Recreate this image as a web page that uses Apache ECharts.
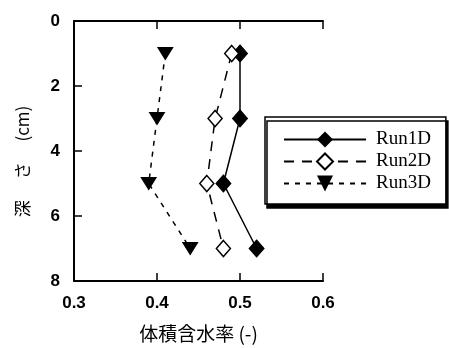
<!DOCTYPE html>
<html><head><meta charset="utf-8">
<script src="https://cdn.jsdelivr.net/npm/echarts@6/dist/echarts.min.js"></script>
<style>html,body{margin:0;padding:0;background:#fff}#c{width:449px;height:348px}</style>
</head><body><div id="c"></div>
<script>
const depths = [1, 3, 5, 7];
const run1D = [0.50, 0.50, 0.48, 0.52];
const run2D = [0.49, 0.47, 0.46, 0.48];
const run3D = [0.41, 0.40, 0.39, 0.44];
const xTicks = [0.3, 0.4, 0.5, 0.6];
const yTicks = [0, 2, 4, 6, 8];
const seriesNames = ['Run1D', 'Run2D', 'Run3D'];

const pair = (xs) => xs.map((v, i) => [v, depths[i]]);
const tri = 'path://M0,0 L10,0 L5,8 Z';
const chart = echarts.init(document.getElementById('c'));
const tickFont = {color:'#000', fontFamily:'Liberation Sans, Arial', fontWeight:'bold', fontSize:17};
const tick = {show:true, inside:true, length:8, lineStyle:{color:'#000', width:1.5}};
chart.setOption({
  animation:false,
  backgroundColor:'#fff',
  grid:{left:74, top:21, right:126, bottom:64},
  legend:{
    left:265, top:117, orient:'vertical', itemGap:3,
    itemWidth:82, itemHeight:20,
    padding:[13,15,11,18],
    borderColor:'#000', borderWidth:1.5, backgroundColor:'#fff',
    shadowColor:'#000', shadowBlur:0, shadowOffsetX:2, shadowOffsetY:4,
    textStyle:{fontFamily:'Liberation Serif, Times New Roman', fontSize:19, color:'#000', padding:[0,0,0,5]},
    data:seriesNames
  },
  xAxis:[{
    type:'value', position:'bottom', min:xTicks[0], max:xTicks[xTicks.length-1], interval:0.1,
    name:'体積含水率 (-)', nameLocation:'middle', nameGap:43,
    nameTextStyle:{fontFamily:'Noto Sans CJK JP', fontSize:19, color:'#000'},
    axisLine:{show:true, onZero:false, lineStyle:{color:'#000', width:2}},
    axisTick:tick,
    axisLabel:Object.assign({margin:14, formatter:v=>v.toFixed(1)}, tickFont),
    splitLine:{show:false}
  },{
    type:'value', position:'top', min:xTicks[0], max:xTicks[xTicks.length-1], interval:0.1,
    axisLine:{show:true, onZero:false, lineStyle:{color:'#000', width:2}},
    axisTick:tick,
    axisLabel:{show:false}, splitLine:{show:false}
  }],
  yAxis:[{
    type:'value', inverse:true, min:yTicks[0], max:yTicks[yTicks.length-1], interval:2,
    name:'深 　さ　 (cm)　 ', nameLocation:'middle', nameGap:43, nameRotate:90,
    nameTextStyle:{fontFamily:'Noto Sans CJK JP', fontSize:17, color:'#000'},
    axisLine:{show:true, onZero:false, lineStyle:{color:'#000', width:2}},
    axisTick:tick,
    axisLabel:Object.assign({margin:14}, tickFont),
    splitLine:{show:false}
  }],
  series:[
    {name:seriesNames[0], type:'line', data:pair(run1D), symbol:'diamond', symbolSize:[15,17],
     lineStyle:{color:'#000', width:1.5}, itemStyle:{color:'#000', borderColor:'#000'}},
    {name:seriesNames[1], type:'line', data:pair(run2D), symbol:'diamond', symbolSize:[14,16],
     lineStyle:{color:'#000', width:1.5, type:[10,8]}, itemStyle:{color:'#fff', borderColor:'#000', borderWidth:1.5}},
    {name:seriesNames[2], type:'line', data:pair(run3D), symbol:tri, symbolSize:[15,12],
     lineStyle:{color:'#000', width:1.5, type:[5,6]}, itemStyle:{color:'#000', borderColor:'#000'}}
  ]
});
</script></body></html>
